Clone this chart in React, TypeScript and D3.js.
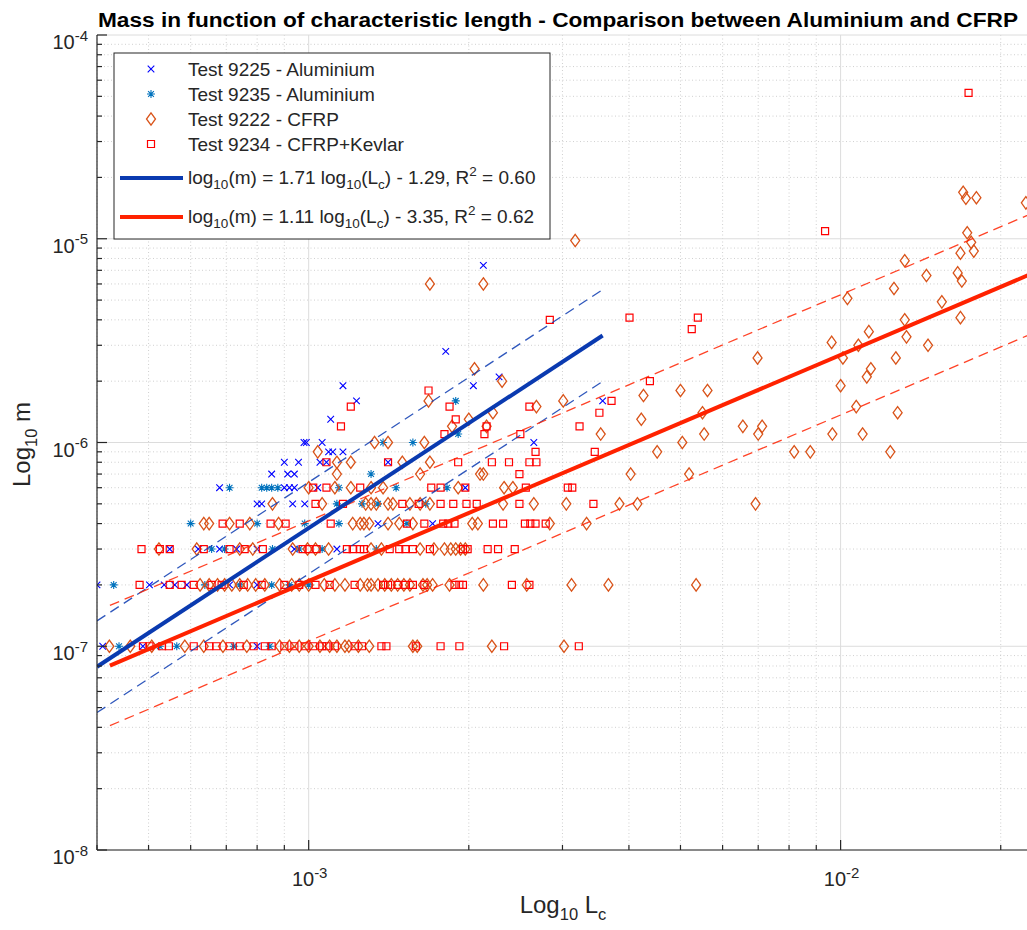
import React from "react";
import * as d3 from "d3";

// ---------- data (Lc in mm, mass in kg) ----------
type Row = [number, number[]];

const test9225: Row[] = [
  [1e-7, [0.41, 0.488, 0.8]],
  [2e-7, [0.4, 0.502, 0.535, 0.56, 0.59, 0.71, 0.8]],
  [3e-7, [0.548, 0.62, 0.68, 0.732, 0.8, 0.94, 1.13]],
  [4e-7, [1.35, 1.71]],
  [5e-7, [0.8, 0.816, 0.933, 0.983]],
  [6e-7, [0.68, 0.9, 0.92, 0.94, 1.04, 1.97]],
  [7e-7, [0.852, 0.913, 0.94]],
  [8e-7, [0.9, 0.957, 1.05, 1.08, 1.41]],
  [9e-7, [1.09, 1.11, 1.16]],
  [1e-6, [0.98, 0.99, 1.06, 2.65]],
  [1.3e-6, [1.1]],
  [1.6e-6, [1.23, 3.57]],
  [1.9e-6, [1.16, 2.04]],
  [2.1e-6, [2.28]],
  [2.8e-6, [1.81]],
  [7.4e-6, [2.13]],
];

const test9235: Row[] = [
  [1e-7, [0.44, 0.525, 0.565, 0.723, 0.845]],
  [2e-7, [0.43, 0.638, 0.742, 0.852, 0.92, 1.0]],
  [3e-7, [0.657, 0.695, 0.855, 0.96, 1.06, 1.34]],
  [4e-7, [0.6, 0.8, 0.983, 1.14, 1.53]],
  [5e-7, [1.13, 1.26, 1.35, 1.66]],
  [6e-7, [0.71, 0.816, 0.834, 0.852, 0.875, 1.14, 1.46, 1.82]],
  [7e-7, [1.31]],
  [1e-6, [1.38, 1.57]],
  [1.1e-6, [1.91]],
  [1.6e-6, [1.89]],
];

const test9222: Row[] = [
  [1e-7, [0.422, 0.462, 0.507, 0.585, 0.635, 0.69, 0.765, 0.882, 0.92, 0.96, 1.0, 1.05, 1.095, 1.13, 1.17, 1.19, 1.24, 1.3, 1.57, 1.6, 2.21, 3.02]],
  [2e-7, [0.625, 0.65, 0.674, 0.695, 0.717, 0.742, 0.768, 0.795, 0.827, 0.882, 0.929, 0.96, 1.0, 1.07, 1.12, 1.17, 1.25, 1.29, 1.31, 1.35, 1.39, 1.43, 1.47, 1.51, 1.55, 1.64, 1.67, 1.71, 1.84, 2.13, 2.57, 3.12, 3.66, 5.35]],
  [3e-7, [0.523, 0.616, 0.742, 0.785, 0.933, 0.995, 1.03, 1.09, 1.31, 1.37, 1.62, 1.72, 1.8, 1.85, 1.89, 1.93, 1.97]],
  [4e-7, [0.635, 0.65, 0.71, 0.775, 0.878, 1.21, 1.25, 1.27, 1.3, 1.41, 1.48, 1.57, 2.03, 2.08, 2.84, 3.33]],
  [5e-7, [0.855, 1.06, 1.28, 1.31, 1.34, 1.41, 1.44, 1.55, 1.62, 1.69, 2.32, 2.65, 3.05, 3.84, 4.15, 6.92]],
  [6e-7, [1.0, 1.12, 1.2, 1.31, 1.38, 1.91, 2.33, 2.42]],
  [7e-7, [1.13, 1.62, 2.1, 2.13, 4.03, 5.19]],
  [8e-7, [1.13, 1.2, 1.5, 1.69]],
  [9e-7, [1.04, 4.52, 8.18, 8.77, 12.4]],
  [1e-6, [1.33, 1.41, 1.65, 5.04]],
  [1.1e-6, [3.54, 5.54, 7.0, 9.65, 11.0]],
  [1.2e-6, [1.86, 2.16, 6.55, 7.12]],
  [1.3e-6, [2.0, 4.22]],
  [1.4e-6, [2.22, 5.5, 12.8]],
  [1.5e-6, [2.68, 10.7]],
  [1.6e-6, [1.68, 3.01]],
  [1.7e-6, [4.26]],
  [1.8e-6, [5.0, 5.62]],
  [1.9e-6, [10.0]],
  [2.0e-6, [2.31]],
  [2.1e-6, [11.2]],
  [2.3e-6, [2.05, 11.4]],
  [2.6e-6, [6.98, 10.1, 12.7]],
  [3.0e-6, [10.8, 14.6]],
  [3.1e-6, [9.62]],
  [3.3e-6, [13.3]],
  [3.5e-6, [11.3]],
  [4.0e-6, [13.2]],
  [4.1e-6, [16.8]],
  [4.9e-6, [15.5]],
  [5.1e-6, [10.3]],
  [5.7e-6, [12.6]],
  [6.0e-6, [1.69, 2.13]],
  [6.2e-6, [16.9]],
  [6.6e-6, [14.5]],
  [6.8e-6, [16.6]],
  [7.8e-6, [13.2]],
  [8.5e-6, [16.8]],
  [8.7e-6, [17.8]],
  [9.6e-6, [17.6]],
  [9.8e-6, [3.17]],
  [1.07e-5, [17.3]],
  [1.5e-5, [22.3]],
  [1.58e-5, [17.2]],
  [1.59e-5, [18.0]],
  [1.69e-5, [17.0]],
];

const test9234: Row[] = [
  [1e-7, [0.488, 0.502, 0.53, 0.546, 0.608, 0.65, 0.671, 0.71, 0.742, 0.788, 0.827, 0.852, 0.9, 0.94, 0.983, 1.02, 1.06, 1.08, 1.12, 1.22, 1.26, 1.37, 1.4, 1.59, 1.77, 1.92, 2.33, 3.22]],
  [2e-7, [0.481, 0.548, 0.577, 0.608, 0.657, 0.686, 0.755, 0.816, 0.9, 0.96, 1.03, 1.095, 1.22, 1.38, 1.41, 1.47, 1.52, 1.57, 1.65, 1.88, 1.92, 1.95, 2.41, 2.6]],
  [3e-7, [0.485, 0.525, 0.548, 0.635, 0.71, 0.758, 0.82, 0.974, 1.0, 1.035, 1.18, 1.21, 1.25, 1.27, 1.42, 1.48, 1.52, 1.57, 1.69, 1.95, 1.99, 2.17, 2.27, 2.44]],
  [4e-7, [0.689, 0.742, 0.848, 0.905, 1.1, 1.53, 1.65, 1.79, 1.83, 1.88, 2.22, 2.32, 2.55, 2.61, 2.67, 2.79]],
  [5e-7, [1.03, 1.16, 1.5, 1.61, 1.77, 1.87, 1.98, 2.07, 2.49, 3.43]],
  [6e-7, [1.02, 1.08, 1.25, 1.7, 1.77, 1.97, 2.56, 3.07, 3.13]],
  [7e-7, [2.49]],
  [8e-7, [1.08, 1.41, 1.91, 2.21, 2.38, 2.6, 2.68]],
  [9e-7, [2.67, 3.45]],
  [1.1e-6, [1.8, 2.14, 2.5]],
  [1.2e-6, [1.15, 2.16, 3.23]],
  [1.3e-6, [1.89]],
  [1.4e-6, [3.52]],
  [1.5e-6, [1.2, 1.84, 2.6]],
  [1.6e-6, [3.71]],
  [1.8e-6, [1.68]],
  [2.0e-6, [4.38]],
  [3.6e-6, [5.25]],
  [4.0e-6, [2.84]],
  [4.1e-6, [4.01, 5.39]],
  [1.09e-5, [9.35]],
  [5.2e-5, [17.4]],
];

const seriesNames = [
  "Test 9225 - Aluminium",
  "Test 9235 - Aluminium",
  "Test 9222 - CFRP",
  "Test 9234 - CFRP+Kevlar",
];

// fits: log10(m) = slope*log10(Lc) + intercept ; band = half-width of bounds in decades
const fitAl = { slope: 1.71, intercept: -1.29, r2: 0.6, lcMin: 4.0e-4, lcMax: 3.57e-3, band: 0.225 };
const fitCf = { slope: 1.11, intercept: -3.35, r2: 0.62, lcMin: 4.23e-4, lcMax: 2.5e-2, band: 0.295 };

const xDomain: [number, number] = [4e-4, 0.0228];
const yDomain: [number, number] = [1e-8, 1e-4];
const xTickExps = [-3, -2];
const yTickExps = [-8, -7, -6, -5, -4];

const titleText = "Mass in function of characteristic length - Comparison between Aluminium and CFRP";

// ---------- styling ----------
const W = 1027;
const H = 930;
const plot = { left: 97, right: 1031, top: 35, bottom: 850 };
const FONT = "'Liberation Sans', Arial, Helvetica, sans-serif";
const AXIS = "#262626";
const C_X = "#0000FF";
const C_AST = "#0072BD";
const C_DIA = "#D95319";
const C_SQ = "#FF0000";
const C_BLUE = "#0A3AB0";
const C_RED = "#FF2200";

const markerPaths: Record<string, string> = {
  x: "M-3.3,-3.3L3.3,3.3M-3.3,3.3L3.3,-3.3",
  ast: "M0,-4V4M-4,0H4M-2.9,-2.9L2.9,2.9M-2.9,2.9L2.9,-2.9",
  dia: "M0,-6.2L4.5,0L0,6.2L-4.5,0Z",
  sq: "M-3.5,-3.5H3.5V3.5H-3.5Z",
};

function flatten(rows: Row[]): [number, number][] {
  const out: [number, number][] = [];
  rows.forEach(([m, lcs]) => lcs.forEach((lc) => out.push([lc * 1e-3, m])));
  return out;
}

function Sup({ base, exp, x, y, size, anchor }: any) {
  return (
    <text x={x} y={y} fontSize={size} fill={AXIS} fontFamily={FONT} textAnchor={anchor}>
      {base}
      <tspan dy={-size * 0.42} fontSize={size * 0.75}>{exp}</tspan>
    </text>
  );
}

export default function App() {
  const x = d3.scaleLog().domain(xDomain).range([plot.left, plot.right]);
  const y = d3.scaleLog().domain(yDomain).range([plot.bottom, plot.top]);

  const xMinor: number[] = [];
  for (let e = -4; e <= -2; e++)
    for (let k = 2; k <= 9; k++) {
      const v = k * Math.pow(10, e);
      if (v >= xDomain[0] && v <= xDomain[1]) xMinor.push(v);
    }
  const yMinor: number[] = [];
  for (let e = -8; e <= -5; e++)
    for (let k = 2; k <= 9; k++) yMinor.push(k * Math.pow(10, e));

  const line = d3
    .line<[number, number]>()
    .x((d) => x(d[0]))
    .y((d) => y(d[1]));

  const fitPts = (f: typeof fitAl, off: number): [number, number][] =>
    [f.lcMin, f.lcMax].map((lc) => [lc, Math.pow(10, f.slope * Math.log10(lc) + f.intercept + off)]);

  const series = [
    { data: flatten(test9225), path: markerPaths.x, color: C_X, sw: 1.1 },
    { data: flatten(test9235), path: markerPaths.ast, color: C_AST, sw: 1.1 },
    { data: flatten(test9222), path: markerPaths.dia, color: C_DIA, sw: 1.3 },
    { data: flatten(test9234), path: markerPaths.sq, color: C_SQ, sw: 1.2 },
  ];

  const LEGFS = 19;
  const fitLabel = (f: typeof fitAl, baseY: number) => {
    const sub = 13.5;
    const sign = f.intercept < 0 ? "-" : "+";
    return (
      <text x={188} y={baseY} fontSize={LEGFS} fill={AXIS} fontFamily={FONT}>
        log<tspan dy={5} fontSize={sub}>10</tspan>
        <tspan dy={-5}>(m) = {f.slope.toFixed(2)} log</tspan>
        <tspan dy={5} fontSize={sub}>10</tspan>
        <tspan dy={-5}>(L</tspan>
        <tspan dy={5} fontSize={sub}>c</tspan>
        <tspan dy={-5}>) {sign} {Math.abs(f.intercept).toFixed(2)}, R</tspan>
        <tspan dy={-8} fontSize={sub}>2</tspan>
        <tspan dy={8}> = {f.r2.toFixed(2)}</tspan>
      </text>
    );
  };

  const legRows = [69, 94, 119, 144];

  return (
    <svg width={W} height={H} style={{ position: "absolute", left: 0, top: 0, background: "#fff" }}>
      <defs>
        <clipPath id="plotclip">
          <rect x={plot.left} y={plot.top} width={plot.right - plot.left} height={plot.bottom - plot.top} />
        </clipPath>
      </defs>
      <rect x={0} y={0} width={W} height={H} fill="#fff" />

      {/* grid */}
      <g>
        {xMinor.map((v, i) => (
          <line key={"xm" + i} x1={x(v)} x2={x(v)} y1={plot.top} y2={plot.bottom} stroke="#c4c4c4" strokeWidth={0.8} strokeDasharray="1,2.5" />
        ))}
        {yMinor.map((v, i) => (
          <line key={"ym" + i} x1={plot.left} x2={plot.right} y1={y(v)} y2={y(v)} stroke="#c4c4c4" strokeWidth={0.8} strokeDasharray="1,2.5" />
        ))}
        {xTickExps.map((e) => (
          <line key={"xg" + e} x1={x(Math.pow(10, e))} x2={x(Math.pow(10, e))} y1={plot.top} y2={plot.bottom} stroke="#dcdcdc" strokeWidth={1} />
        ))}
        {yTickExps.map((e) => (
          <line key={"yg" + e} x1={plot.left} x2={plot.right} y1={y(Math.pow(10, e))} y2={y(Math.pow(10, e))} stroke="#dcdcdc" strokeWidth={1} />
        ))}
      </g>

      {/* data */}
      <g clipPath="url(#plotclip)">
        {series.map((s, si) => (
          <g key={si} fill="none" stroke={s.color} strokeWidth={s.sw}>
            {s.data.map((d, i) => (
              <path key={i} d={s.path} transform={`translate(${x(d[0])},${y(d[1])})`} />
            ))}
          </g>
        ))}
        {/* fits */}
        <path d={line(fitPts(fitAl, fitAl.band)) || ""} stroke={C_BLUE} strokeWidth={1.3} strokeDasharray="10,6" fill="none" opacity={0.85} />
        <path d={line(fitPts(fitAl, -fitAl.band)) || ""} stroke={C_BLUE} strokeWidth={1.3} strokeDasharray="10,6" fill="none" opacity={0.85} />
        <path d={line(fitPts(fitCf, fitCf.band)) || ""} stroke={C_RED} strokeWidth={1.3} strokeDasharray="10,6" fill="none" opacity={0.85} />
        <path d={line(fitPts(fitCf, -fitCf.band)) || ""} stroke={C_RED} strokeWidth={1.3} strokeDasharray="10,6" fill="none" opacity={0.85} />
        <path d={line(fitPts(fitAl, 0)) || ""} stroke={C_BLUE} strokeWidth={4} fill="none" />
        <path d={line(fitPts(fitCf, 0)) || ""} stroke={C_RED} strokeWidth={4} fill="none" />
      </g>

      {/* axes */}
      <g stroke={AXIS} strokeWidth={1.2}>
        <line x1={plot.left} x2={plot.left} y1={plot.top} y2={plot.bottom} />
        <line x1={plot.left} x2={plot.right} y1={plot.bottom} y2={plot.bottom} />
        {xTickExps.map((e) => (
          <line key={"xt" + e} x1={x(Math.pow(10, e))} x2={x(Math.pow(10, e))} y1={plot.bottom} y2={plot.bottom - 10} />
        ))}
        {xMinor.map((v, i) => (
          <line key={"xmt" + i} x1={x(v)} x2={x(v)} y1={plot.bottom} y2={plot.bottom - 5} />
        ))}
        {yTickExps.map((e) => (
          <line key={"yt" + e} x1={plot.left} x2={plot.left + 10} y1={y(Math.pow(10, e))} y2={y(Math.pow(10, e))} />
        ))}
        {yMinor.map((v, i) => (
          <line key={"ymt" + i} x1={plot.left} x2={plot.left + 5} y1={y(v)} y2={y(v)} />
        ))}
      </g>

      {/* tick labels */}
      {xTickExps.map((e) => (
        <Sup key={"xl" + e} base="10" exp={String(e)} x={x(Math.pow(10, e)) + 1} y={plot.bottom + 36} size={20} anchor="middle" />
      ))}
      {yTickExps.map((e) => (
        <Sup key={"yl" + e} base="10" exp={String(e)} x={88} y={y(Math.pow(10, e)) + 14} size={20} anchor="end" />
      ))}

      {/* axis labels */}
      <text x={563} y={913} fontSize={24} fill={AXIS} fontFamily={FONT} textAnchor="middle">
        Log<tspan dy={7} fontSize={16.5}>10</tspan>
        <tspan dy={-7}> L</tspan>
        <tspan dy={7} fontSize={16.5}>c</tspan>
      </text>
      <text transform={`translate(30,${(plot.top + plot.bottom) / 2 + 2}) rotate(-90)`} fontSize={24} fill={AXIS} fontFamily={FONT} textAnchor="middle">
        Log<tspan dy={7} fontSize={16.5}>10</tspan>
        <tspan dy={-7}> m</tspan>
      </text>

      {/* title */}
      <text x={98} y={27} fontSize={20} fontWeight="bold" fill="#000" fontFamily={FONT} textLength={920} lengthAdjust="spacingAndGlyphs">
        {titleText}
      </text>

      {/* legend */}
      <g>
        <rect x={114} y={53} width={436} height={186} fill="#fff" stroke={AXIS} strokeWidth={1} />
        {series.map((s, i) => (
          <g key={"lg" + i}>
            <path d={s.path} transform={`translate(151,${legRows[i]})`} fill="none" stroke={s.color} strokeWidth={s.sw} />
            <text x={188} y={legRows[i] + 7} fontSize={LEGFS} fill={AXIS} fontFamily={FONT}>
              {seriesNames[i]}
            </text>
          </g>
        ))}
        <line x1={120} x2={183} y1={178} y2={178} stroke={C_BLUE} strokeWidth={4} />
        {fitLabel(fitAl, 184)}
        <line x1={120} x2={183} y1={217} y2={217} stroke={C_RED} strokeWidth={4} />
        {fitLabel(fitCf, 223)}
      </g>
    </svg>
  );
}
